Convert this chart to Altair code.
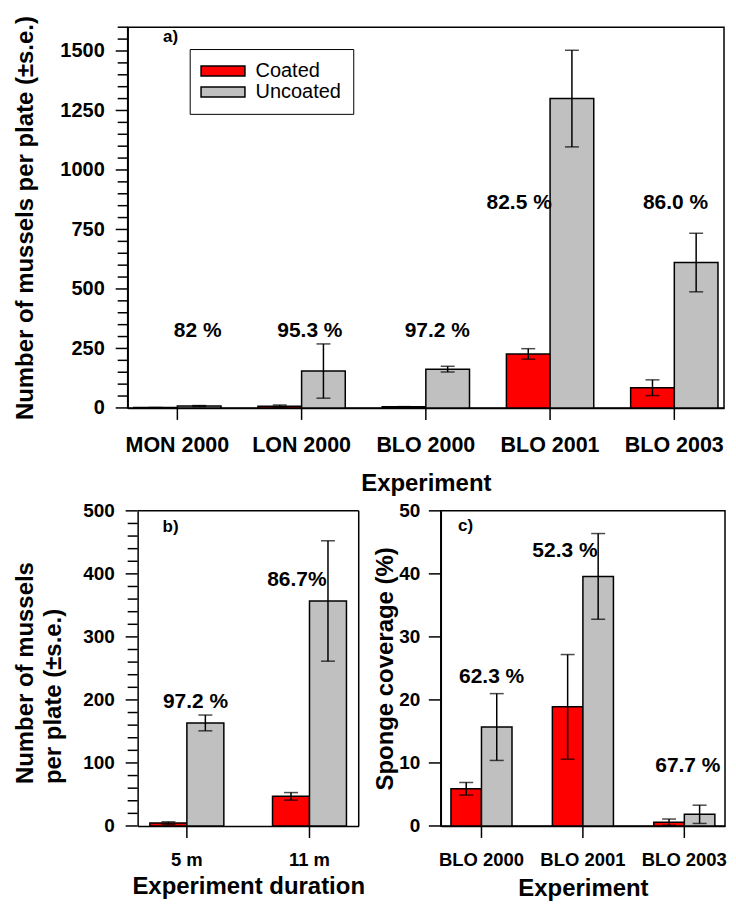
import altair as alt
import pandas as pd

FONT = "Liberation Sans"
groups = ["Coated", "Uncoated"]
colors = ["#ff0000", "#c0c0c0"]

# ---- panel a: mussels per plate, by experiment
a_cats = ["MON 2000", "LON 2000", "BLO 2000", "BLO 2001", "BLO 2003"]
a_coated = [1.4, 7.3, 4.6, 227, 85]
a_coated_se = [0.5, 5, 1, 22, 33]
a_uncoated = [8, 155, 163, 1300, 611]
a_uncoated_se = [2, 114, 12, 203, 123]
a_pct = ["82 %", "95.3 %", "97.2 %", "82.5 %", "86.0 %"]
a_pct_y = [300, 300, 300, 835, 835]
a_major = [0, 250, 500, 750, 1000, 1250, 1500]

# ---- panel b: mussels per plate, by experiment duration
b_cats = ["5 m", "11 m"]
b_coated = [4.6, 47]
b_coated_se = [2, 6]
b_uncoated = [163.5, 357]
b_uncoated_se = [12.5, 95.5]
b_pct = ["97.2 %", "86.7%"]
b_pct_y = [187, 380]
b_major = [0, 100, 200, 300, 400, 500]

# ---- panel c: sponge coverage
c_cats = ["BLO 2000", "BLO 2001", "BLO 2003"]
c_coated = [5.9, 18.9, 0.6]
c_coated_se = [1.0, 8.3, 0.5]
c_uncoated = [15.7, 39.6, 1.85]
c_uncoated_se = [5.3, 6.8, 1.45]
c_pct = ["62.3 %", "52.3 %", "67.7 %"]
c_pct_y = [22.7, 42.6, 8.6]
c_major = [0, 10, 20, 30, 40, 50]


def bar_table(cats, coated, coated_se, uncoated, uncoated_se):
    rows = []
    for g, vals, ses in ((groups[0], coated, coated_se), (groups[1], uncoated, uncoated_se)):
        for c, v, s in zip(cats, vals, ses):
            rows.append({"cat": c, "group": g, "value": v,
                         "lo": max(v - s, 0), "hi": v + s})
    return pd.DataFrame(rows)


def y_axis(title, major, lab_size, lab_pad, title_x, shift, extra=None):
    kw = dict(
        title=title, values=major, format="d",
        ticks=False, tickSize=0,
        labelFontSize=lab_size, labelPadding=lab_pad, labelOverlap=False,
        labelFlush=False,
        titleFontSize=24, titleX=title_x, titleBaseline="alphabetic",
    )
    if shift:
        kw["offset"] = -shift
    if extra:
        kw.update(extra)
    return alt.Axis(**kw)


def x_axis(title, lab_size, lab_pad, title_y):
    return alt.Axis(title=title, labelAngle=0, labelFontSize=lab_size,
                    labelBaseline="alphabetic", labelPadding=lab_pad,
                    ticks=False, tickSize=0, titleFontSize=24,
                    titleBaseline="alphabetic", titleY=title_y,
                    labelOverlap=False)


def panel(cats, coated, coated_se, uncoated, uncoated_se, pct, pct_y, pct_dx,
          width, height, ymax, minor_step, major, pad_inner, pad_outer, xaxis,
          yaxis, legend, letter, letter_xy, shift=0, pct_size=21):
    df = bar_table(cats, coated, coated_se, uncoated, uncoated_se)
    W = width + shift
    sc = dict(domain=cats, paddingInner=pad_inner, paddingOuter=pad_outer)
    if shift:
        sc["range"] = [shift, W]
    xs = alt.Scale(**sc)
    ys = alt.Scale(domain=[0, ymax], nice=False, zero=True)
    x = alt.X("cat:N", sort=cats, scale=xs, axis=xaxis)
    xo = alt.XOffset("group:N", sort=groups, scale=alt.Scale(domain=groups))
    base = alt.Chart(df)
    bars = base.mark_bar(stroke="black", strokeWidth=1.5, opacity=1).encode(
        x=x, xOffset=xo,
        y=alt.Y("value:Q", scale=ys, axis=yaxis),
        color=alt.Color("group:N", sort=groups,
                        scale=alt.Scale(domain=groups, range=colors), legend=legend),
    )
    rules = base.mark_rule(color="black", strokeWidth=1.5).encode(
        x=x, xOffset=xo, y=alt.Y("lo:Q", scale=ys, axis=yaxis), y2="hi:Q")
    cap_hi = base.mark_tick(color="black", size=14, thickness=1.5).encode(
        x=x, xOffset=xo, y=alt.Y("hi:Q", scale=ys, axis=yaxis))
    cap_lo = base.mark_tick(color="black", size=14, thickness=1.5).encode(
        x=x, xOffset=xo, y=alt.Y("lo:Q", scale=ys, axis=yaxis))
    layers = [bars, rules, cap_hi, cap_lo]

    # axis ticks (major longer than minor), placed through the scales
    minor = [v for v in range(0, ymax + 1, minor_step) if v not in major]
    for vals, ln in ((major, 12), (minor, 10)):
        if vals:
            layers.append(
                alt.Chart(pd.DataFrame({"v": vals})).mark_rule(
                    color="black", strokeWidth=1.5).encode(
                    y=alt.Y("v:Q", scale=ys, axis=yaxis),
                    x=alt.value(shift - ln), x2=alt.value(shift)))
    layers.append(
        alt.Chart(pd.DataFrame({"cat": cats})).mark_rule(
            color="black", strokeWidth=1.5).encode(
            x=x, y=alt.value(height), y2=alt.value(height + 12)))

    for c, t, ly, dx in zip(cats, pct, pct_y, pct_dx):
        ldf = pd.DataFrame({"cat": [c], "txt": [t], "ly": [ly]})
        layers.append(
            alt.Chart(ldf).mark_text(dx=dx, fontSize=pct_size, fontWeight="bold",
                                     baseline="alphabetic", align="center",
                                     font=FONT, color="black").encode(
                x=x, y=alt.Y("ly:Q", scale=ys, axis=yaxis), text="txt:N"))
    layers.append(
        alt.Chart(pd.DataFrame({"t": [letter]})).mark_text(
            align="left", baseline="alphabetic", fontSize=17, fontWeight="bold",
            font=FONT, color="black").encode(
            text="t:N", x=alt.value(letter_xy[0] + shift), y=alt.value(letter_xy[1])))

    props = dict(width=W, height=height)
    if shift:
        # frame drawn as top/right edges (left/bottom are the axis lines)
        one = pd.DataFrame({"k": [0]})
        layers.append(alt.Chart(one).mark_rule(color="black", strokeWidth=1.5).encode(
            x=alt.value(shift), x2=alt.value(W), y=alt.value(0)))
        layers.append(alt.Chart(one).mark_rule(color="black", strokeWidth=1.5).encode(
            x=alt.value(W), y=alt.value(0), y2=alt.value(height)))
        props["view"] = alt.ViewBackground(strokeOpacity=0)
    return alt.layer(*layers).properties(**props)


legend_a = alt.Legend(
    title=None, orient="none", legendX=62.2, legendY=21.9,
    strokeColor="black", fillColor="white", padding=12,
    symbolType="M-2.12,-1L6.68,-1L6.68,1L-2.12,1Z", symbolSize=100,
    symbolStrokeColor="black", symbolStrokeWidth=1.5, symbolOpacity=1,
    labelFontSize=20, labelFont=FONT, labelFontWeight="normal", labelColor="black",
    labelOffset=34, rowPadding=1,
)

chart_a = panel(
    a_cats, a_coated, a_coated_se, a_uncoated, a_uncoated_se, a_pct, a_pct_y,
    [20.4, 8.3, 11.5, -31, 1.2],
    width=598, height=381.8, ymax=1600, minor_step=50, major=a_major,
    pad_inner=0.297, pad_outer=0.0485,
    xaxis=x_axis("Experiment", 21.5, 43.2, 82.5),
    yaxis=y_axis("Number of mussels per plate (±s.e.)", a_major, 20, 23.5, -95, 0),
    legend=legend_a, letter="a)", letter_xy=(35.4, 14.8),
)

chart_b = panel(
    b_cats, b_coated, b_coated_se, b_uncoated, b_uncoated_se, b_pct, b_pct_y,
    [8.7, -12.7],
    width=221.7, height=316, ymax=500, minor_step=20, major=b_major,
    pad_inner=0.397, pad_outer=0.10,
    xaxis=x_axis("Experiment duration", 18.5, 39.5, 68),
    yaxis=y_axis(["Number of mussels", "per plate (±s.e.)"], b_major, 19, 23.3, -105, 10,
                 extra=dict(titleAlign="left", titleY=273.5, titleLineHeight=28)),
    legend=None, letter="b)", letter_xy=(25, 21), shift=10,
)

chart_c = panel(
    c_cats, c_coated, c_coated_se, c_uncoated, c_uncoated_se, c_pct, c_pct_y,
    [10.2, -18, 3.5],
    width=285, height=316, ymax=50, minor_step=10, major=c_major,
    pad_inner=0.398, pad_outer=0.10,
    xaxis=x_axis("Experiment", 18.5, 40, 70),
    yaxis=y_axis("Sponge coverage (%)", c_major, 19, 21, -48.5, 0),
    legend=None, letter="c)", letter_xy=(17.3, 20),
)

bottom = alt.hconcat(chart_b, chart_c, spacing=7).resolve_scale(
    color="independent", xOffset="independent")

chart = alt.vconcat(
    chart_a, bottom, spacing=4,
    padding={"left": 5, "top": 5, "right": 0, "bottom": 3},
).resolve_scale(color="independent", xOffset="independent").configure(
    font=FONT, background="white"
).configure_view(
    stroke="black", strokeWidth=1.5
).configure_axis(
    domainColor="black", domainWidth=1.5,
    labelColor="black", titleColor="black", labelFont=FONT, titleFont=FONT,
    labelFontWeight="bold", titleFontWeight="bold", grid=False,
)

chart.save("out.html", embed_options={"renderer": "svg", "actions": False})
